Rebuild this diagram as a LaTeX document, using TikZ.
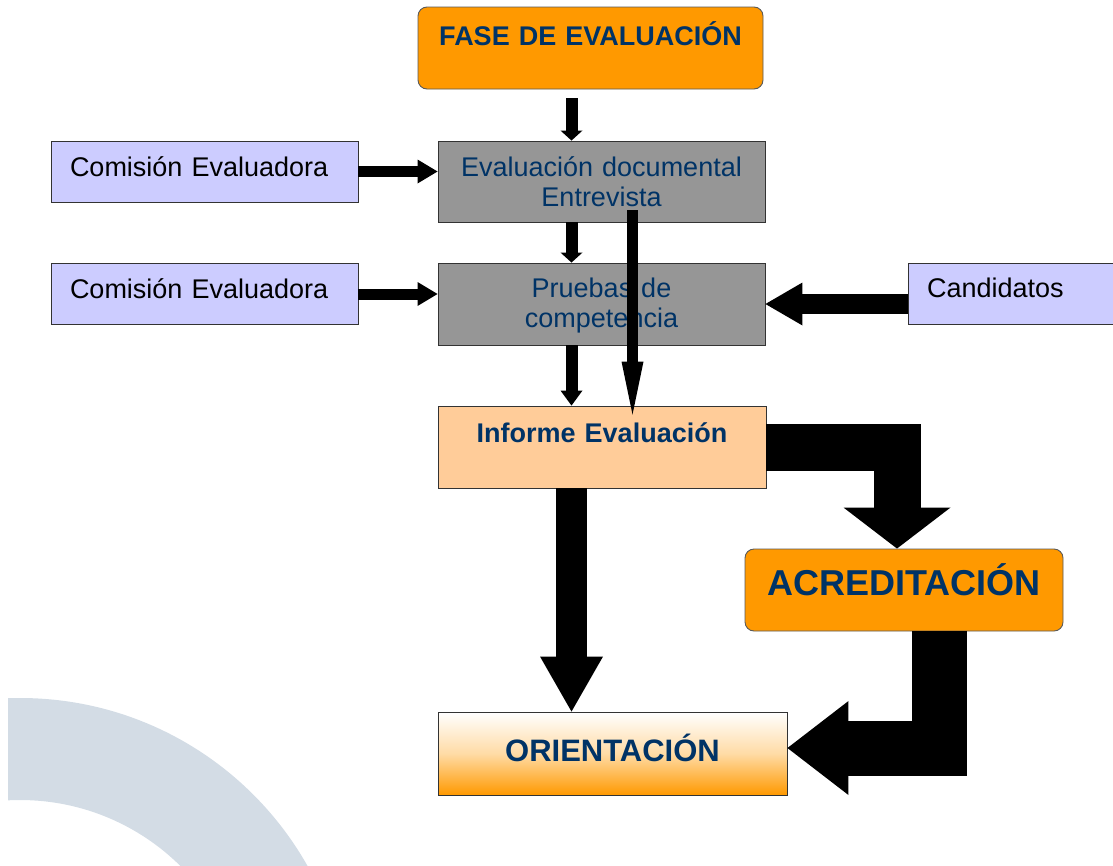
\documentclass[tikz,border=0pt]{standalone}
\usepackage{fontspec}
\setmainfont{Liberation Sans}
\usetikzlibrary{arrows.meta}

\definecolor{naranja}{HTML}{FF9900}
\definecolor{lila}{HTML}{CCCCFF}
\definecolor{gris}{HTML}{969696}
\definecolor{salmon}{HTML}{FFCC99}
\definecolor{azul}{HTML}{003366}
\definecolor{marca}{HTML}{D3DCE5}

\begin{document}
\begin{tikzpicture}[x=1pt,y=-1pt,
    caja/.style={draw=black!80, line width=0.9pt, inner xsep=0pt, inner ysep=0pt,
        align=center, font=\fontsize{27}{30}\selectfont},
    cajalila/.style={caja, fill=lila, align=left, inner xsep=19pt,
        text height=35pt, text depth=26pt},
    cajagris/.style={caja, fill=gris, text=azul, text width=327pt,
        text height=35pt, text depth=46pt},
    cajanaranja/.style={caja, fill=naranja, draw=black!65, rounded corners=9pt,
        text=azul},
    bloque/.style n args={3}{line width=#1, line join=miter,
        -{Triangle[width=#2,length=#3,line width=0pt]}}
]
    \useasboundingbox (0,0) rectangle (1113,865);

    % marca de agua
    \begin{scope}
        \clip (8,0) rectangle (1113,865);
        \fill[marca, even odd rule] (20,1028) circle[radius=330] (20,1028) circle[radius=228];
    \end{scope}

    \coordinate (colA) at (571.5,0);
    \coordinate (colB) at (632.5,0);

    \node[cajanaranja, text width=345pt, text height=38pt, text depth=44pt,
        font=\fontsize{27}{30}\selectfont\bfseries] (fase) at (590.5,48) {FASE DE EVALUACIÓN};

    \node[cajagris] (evaldoc) at (601.5,181.5) {Evaluación documental\\Entrevista};
    \node[cajagris, text height=34pt, text depth=48pt] (pruebas) at (601.5,304) {Pruebas de\\competencia};

    \node[cajalila, text width=269pt] (com1) at (204.5,171.5) {Comisión Evaluadora};
    \node[cajalila, text width=269pt] (com2) at (204.5,294) {Comisión Evaluadora};
    \node[cajalila, text width=167pt, text height=34pt, text depth=27pt] (cand) at (1010.5,293.5) {Candidatos};

    \node[caja, fill=salmon, text=azul, text width=328pt, text height=36pt, text depth=46pt,
        font=\fontsize{27}{30}\selectfont\bfseries] (informe) at (602,447) {Informe Evaluación};

    \node[cajanaranja, text width=318pt, text height=46pt, text depth=36pt,
        font=\fontsize{36}{40}\selectfont\bfseries] (acred) at (904,590) {ACREDITACIÓN};

    \node[caja, top color=white, bottom color=naranja, middle color=naranja!35, text=azul,
        text width=349pt, text height=49pt, text depth=34pt,
        font=\fontsize{31}{34}\selectfont\bfseries] (orient) at (612.5,753.5) {ORIENTACIÓN};

    % flechas
    \draw[bloque={12pt}{22pt}{10pt}, shorten <=9pt] (fase.south -| colA) -- (evaldoc.north -| colA);
    \draw[bloque={11pt}{24pt}{20pt}] (com1.east) -- (com1.east -| evaldoc.west);
    \draw[bloque={11pt}{24pt}{20pt}] (com2.east) -- (com2.east -| pruebas.west);
    \draw[bloque={20pt}{43pt}{37pt}] (cand.west |- pruebas.east) -- (pruebas.east);
    \draw[bloque={12pt}{22pt}{10pt}] (evaldoc.south -| colA) -- (pruebas.north -| colA);
    \draw[bloque={12pt}{22pt}{15pt}] (pruebas.south -| colA) -- (informe.north -| colA);
    \draw[bloque={11pt}{22pt}{53pt}] ([yshift=12pt]evaldoc.south -| colB) -- ([yshift=-9pt]informe.north -| colB);

    \draw[bloque={47pt}{107pt}{41pt}] (informe.east) -| ([xshift=-7pt]acred.north);
    \draw[bloque={31pt}{63pt}{55pt}] (informe.south -| colA) -- (orient.north -| colA);
    \draw[bloque={55pt}{94pt}{61pt}] ([xshift=35.5pt]acred.south) |- ([yshift=5.5pt]orient.east);
\end{tikzpicture}
\end{document}
